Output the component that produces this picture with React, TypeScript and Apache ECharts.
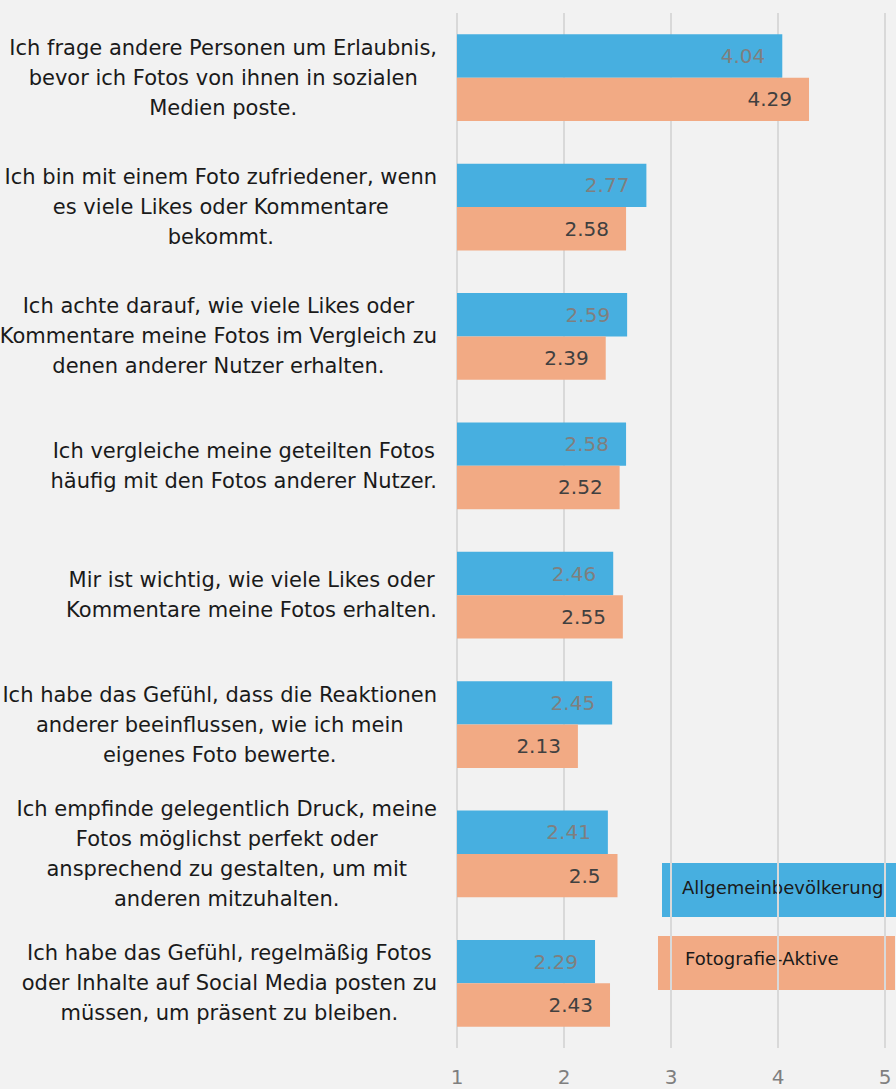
import React, { useEffect, useRef } from "react";
import * as echarts from "echarts";

const categories = [
  "Ich frage andere Personen um Erlaubnis,\nbevor ich Fotos von ihnen in sozialen\nMedien poste.",
  "Ich bin mit einem Foto zufriedener, wenn\nes viele Likes oder Kommentare\nbekommt.",
  "Ich achte darauf, wie viele Likes oder\nKommentare meine Fotos im Vergleich zu\ndenen anderer Nutzer erhalten.",
  "Ich vergleiche meine geteilten Fotos\nhäufig mit den Fotos anderer Nutzer.",
  "Mir ist wichtig, wie viele Likes oder\nKommentare meine Fotos erhalten.",
  "Ich habe das Gefühl, dass die Reaktionen\nanderer beeinflussen, wie ich mein\neigenes Foto bewerte.",
  "Ich empfinde gelegentlich Druck, meine\nFotos möglichst perfekt oder\nansprechend zu gestalten, um mit\nanderen mitzuhalten.",
  "Ich habe das Gefühl, regelmäßig Fotos\noder Inhalte auf Social Media posten zu\nmüssen, um präsent zu bleiben.",
];
const seriesNames = ["Allgemeinbevölkerung", "Fotografie-Aktive"];
const generalValues = [4.04, 2.77, 2.59, 2.58, 2.46, 2.45, 2.41, 2.29];
const photoValues = [4.29, 2.58, 2.39, 2.52, 2.55, 2.13, 2.5, 2.43];
const xMin = 1;
const xMax = 5;
const xInterval = 1;

const FONT = "'DejaVu Sans', 'Open Sans', sans-serif";
const BLUE = "#47afe0";
const ORANGE = "#f2aa84";

export default function App() {
  const ref = useRef<HTMLDivElement>(null);
  useEffect(() => {
    document.body.style.margin = "0";
    document.body.style.background = "#f2f2f2";
    const chart = echarts.init(ref.current!, null, { renderer: "svg" });
    chart.setOption({
      animation: false,
      backgroundColor: "#f2f2f2",
      textStyle: { fontFamily: FONT },
      grid: {
        left: 457,
        right: 11,
        top: 13,
        bottom: 41,
        containLabel: false,
        outerBoundsMode: "none",
      },
      xAxis: {
        type: "value",
        min: xMin,
        max: xMax,
        interval: xInterval,
        axisLine: { show: false },
        axisTick: { show: false },
        axisLabel: { color: "#7f7f7f", fontSize: 20, margin: 19, fontFamily: FONT },
        splitLine: { show: true, lineStyle: { color: "#d9d9d9", width: 2 } },
      },
      yAxis: {
        type: "category",
        inverse: true,
        data: categories,
        axisLine: { show: false },
        axisTick: { show: false },
        axisLabel: {
          margin: 20,
          align: "right",
          formatter: (v: string) => `{c|${v}}`,
          rich: {
            c: {
              align: "center",
              fontSize: 21,
              lineHeight: 30,
              color: "#1a1a1a",
              fontFamily: FONT,
            },
          },
        },
      },
      series: [
        {
          name: seriesNames[0],
          type: "bar",
          data: generalValues,
          itemStyle: { color: BLUE },
          barGap: "0%",
          barCategoryGap: "33%",
          label: {
            show: true,
            position: "insideRight",
            distance: 17,
            color: "#7f7f7f",
            fontSize: 20,
            fontFamily: FONT,
          },
        },
        {
          name: seriesNames[1],
          type: "bar",
          data: photoValues,
          itemStyle: { color: ORANGE },
          barGap: "0%",
          barCategoryGap: "33%",
          label: {
            show: true,
            position: "insideRight",
            distance: 17,
            color: "#404040",
            fontSize: 20,
            fontFamily: FONT,
          },
        },
      ],
      graphic: [
        {
          type: "group",
          left: 662,
          top: 863,
          children: [
            { type: "rect", shape: { x: 0, y: 0, width: 240, height: 54 }, style: { fill: BLUE } },
            {
              type: "text",
              x: 20,
              y: 24,
              style: {
                text: seriesNames[0],
                fill: "#1a1a1a",
                fontSize: 18,
                fontFamily: FONT,
                verticalAlign: "middle",
              },
            },
          ],
        },
        {
          type: "group",
          left: 658,
          top: 936,
          children: [
            { type: "rect", shape: { x: 0, y: 0, width: 237, height: 54 }, style: { fill: ORANGE } },
            {
              type: "text",
              x: 27,
              y: 22,
              style: {
                text: seriesNames[1],
                fill: "#1a1a1a",
                fontSize: 18,
                fontFamily: FONT,
                verticalAlign: "middle",
              },
            },
          ],
        },
      ],
    });
    return () => chart.dispose();
  }, []);
  return (
    <div
      ref={ref}
      style={{ position: "fixed", left: 0, top: 0, width: 896, height: 1089 }}
    />
  );
}
